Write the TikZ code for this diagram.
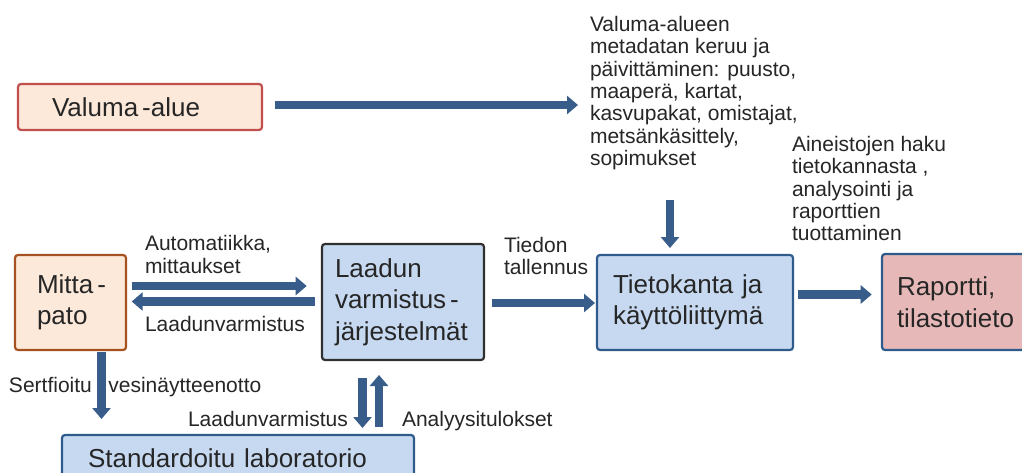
\documentclass[tikz,border=0pt]{standalone}
\usepackage{fontspec}
\setmainfont{Liberation Sans}
\usetikzlibrary{arrows.meta}
\definecolor{arr}{HTML}{385D8A}
\definecolor{txt}{HTML}{262626}
\definecolor{peach}{HTML}{FDE9D9}
\definecolor{vared}{HTML}{C0504D}
\definecolor{mpbrown}{HTML}{A65220}
\definecolor{lblue}{HTML}{C6D9F1}
\definecolor{dblue}{HTML}{2F5A8C}
\definecolor{rose}{HTML}{E6B9B8}
\definecolor{dgrey}{HTML}{303030}
\tikzset{
  box/.style={draw, rounded corners=3pt, line width=2.2pt, anchor=north west,
    align=left, inner ysep=0pt, outer sep=0pt,
    font=\fontsize{26}{31.5}\selectfont, text=txt},
  lbl/.style={inner sep=0pt, outer sep=0pt, align=left,
    font=\fontsize{21}{22.3}\selectfont, text=txt},
  barrow/.style={draw=arr, line width=8.5pt, line cap=butt,
    -{Triangle[length=11pt,width=18pt]}}
}
\begin{document}
\begin{tikzpicture}[x=1pt,y=-1pt]
\useasboundingbox (0,0) rectangle (1022,473);
\fill[white] (0,0) rectangle (1022,473);
\clip (0,0) rectangle (1022,473);

% boxes
\node[box, fill=peach, draw=vared, text width=176pt, inner xsep=34pt, minimum height=46pt] (va) at (18,84) {\mbox{Valuma\hspace{4pt}-alue}};
\node[box, fill=peach, draw=mpbrown, text width=67pt, inner xsep=22pt, minimum height=95pt] (mp) at (15,255) {\mbox{Mitta\hspace{4pt}-}\\pato};
\node[box, fill=lblue, draw=dgrey, text width=136pt, inner xsep=13pt, minimum height=116pt] (lv) at (322,244) {Laadun\\\mbox{varmistus\hspace{4pt}-}\\järjestelmät};
\node[box, fill=lblue, draw=dblue, text width=164pt, inner xsep=16pt, minimum height=95pt] (tk) at (597,255) {Tietokanta ja\\käyttöliittymä};
\node[box, fill=rose, draw=dblue, text width=130pt, inner xsep=15pt, minimum height=96pt] (rp) at (882,254) {Raportti,\\tilastotieto};
\node[box, fill=lblue, draw=dblue, text width=300pt, inner xsep=26pt, minimum height=47pt] (lab) at (62,435) {Standardoitu laboratorio};

% labels
\node[lbl, anchor=north west] (meta) at (590,16.4) {Valuma-alueen\\metadatan keruu ja\\päivittäminen: puusto,\\maaperä, kartat,\\kasvupakat, omistajat,\\metsänkäsittely,\\sopimukset};
\node[lbl, anchor=north west] (ain) at (792,136.4) {Aineistojen haku\\tietokannasta ,\\analysointi ja\\raporttien\\tuottaminen};
\node[lbl, anchor=north west] (auto) at (145,235.7) {Automatiikka,\\mittaukset};
\node[lbl, anchor=base west] (lvl1) at (145,331.7) {Laadunvarmistus};
\node[lbl, anchor=north west] (tied) at (504,237) {Tiedon\\tallennus};
\node[lbl, anchor=base west] (sert) at (9,392) {Sertfioitu\hspace{16.5pt}vesinäytteenotto};
\node[lbl, anchor=base west] (lvl2) at (188,426) {Laadunvarmistus};
\node[lbl, anchor=base west] (anal) at (402,426) {Analyysitulokset};

% arrows
\draw[barrow, shorten <=13pt, shorten >=12pt] ([yshift=2pt]va.east) -- ([yshift=2pt]va.east -| meta.west);
\coordinate (tkin) at ([xshift=-25pt]tk.north);
\draw[barrow, shorten <=30pt, shorten >=7pt] (meta.south -| tkin) -- (tkin);
\draw[barrow, shorten <=5.7pt, shorten >=15.3pt] ([yshift=16.5pt]mp.east) -- ([yshift=16.5pt]mp.east -| lv.west);
\draw[barrow, shorten <=7pt, shorten >=5.7pt] ([yshift=0.5pt]lv.west) -- ([yshift=0.5pt]lv.west -| mp.east);
\draw[barrow, shorten <=7.7pt, shorten >=2pt] ([yshift=-1pt]lv.east) -- ([yshift=-1pt]lv.east -| tk.west);
\draw[barrow, shorten <=5pt, shorten >=10.3pt] ([yshift=8pt]tk.east) -- ([yshift=8pt]tk.east -| rp.west);
\draw[barrow, shorten <=1.7pt, shorten >=16pt] ([xshift=31pt]mp.south) -- ([xshift=31pt]mp.south |- lab.north);
\draw[barrow, shorten <=18pt, shorten >=7pt] ([xshift=-40.5pt]lv.south) -- ([xshift=-40.5pt]lv.south |- lab.north);
\draw[barrow, shorten <=8.3pt, shorten >=15pt] ([xshift=-24pt]lv.south |- lab.north) -- ([xshift=-24pt]lv.south);
\end{tikzpicture}
\end{document}
